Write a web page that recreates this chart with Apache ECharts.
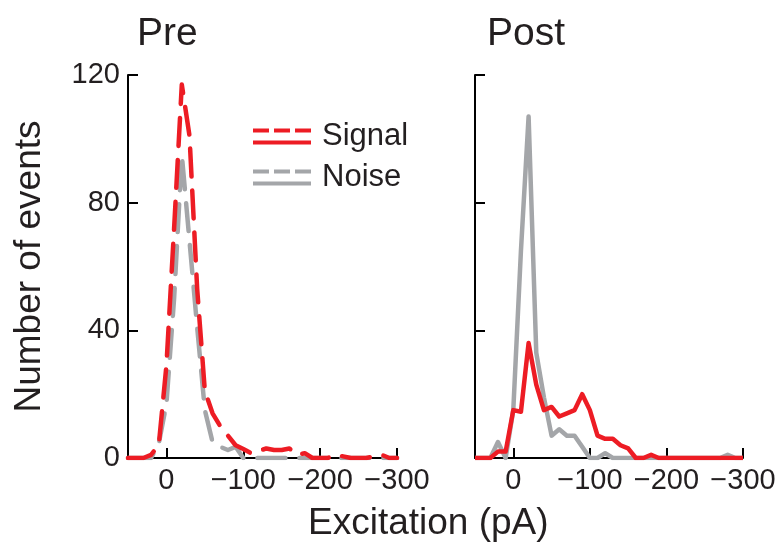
<!DOCTYPE html>
<html><head><meta charset="utf-8">
<script src="https://cdn.jsdelivr.net/npm/echarts@6/dist/echarts.min.js"></script>
<style>html,body{margin:0;padding:0;background:#fff}#c{width:783px;height:544px}</style>
</head><body><div id="c"></div>
<script>
// Excitation bins (pA)
const excitation = [50,40,30,20,10,0,-10,-20,-30,-40,-50,-60,-70,-80,-90,-100,-110,-120,-130,-140,-150,-160,-170,-180,-190,-200,-210,-220,-230,-240,-250,-260,-270,-280,-290,-300];
// Pre
const preSignal = [0,0,0,1,4,29,72,117,101,53,21,14,10,7,4,2.8,1.5,2.2,3,2.5,2.5,3,1,1.5,0,0,0,1,0.5,0,0,0,0.5,1,0,0];
const preNoise  = [0,0,0,0,4.5,17,50,95,68,41,15,5,3.5,2.5,3.5,0,0,0,0,0,0,0,0,0,0,0,0,0,0,0,0,0,0,0,0,0];
// Post
const postSignal = [0,0,0,2,2,15,14.5,36,23,15,16,13,14,15,20,15,7,6,6,4,3,0,0,1,0,0,0,0,0,0,0,0,0,0,0,0];
const postNoise  = [0,0,0,5,0,15,65,107,33,19,7,9,7,7,3.5,0,0,1.5,0,0,0,0,0,0,0,0,0,0,0,0,0,0,0,1,0,0];
// Ticks
const xTicks = [0,-100,-200,-300];
const yTicks = [0,40,80,120];

const RED = '#ed1c24', GRAY = '#a4a6a9', INK = '#231f20';
const FONT = 'Liberation Sans, Arial, Helvetica, sans-serif';

function pairs(vals){ return excitation.map((x,i)=>[x, vals[i]]); }

function xAxisOpt(gi){
  return {
    gridIndex: gi, type:'value', inverse:true, min:-300, max:50, interval:100,
    axisLine:{show:true, onZero:false, lineStyle:{color:'#000', width:2}},
    axisTick:{show:true, inside:true, length:10, lineStyle:{color:'#000', width:2}},
    axisLabel:{show:true, fontSize:29, color:INK, fontFamily:FONT, margin:8,
      formatter:v => xTicks.includes(v) ? (v<0 ? '\u2212'+Math.abs(v) : String(v)) : ''},
    splitLine:{show:false}
  };
}
function yAxisOpt(gi, labels){
  const o = {
    gridIndex: gi, type:'value', min:0, max:120, interval:40,
    axisLine:{show:true, onZero:false, lineStyle:{color:'#000', width:2}},
    axisTick:{show:true, inside:true, length:10, lineStyle:{color:'#000', width:2}},
    axisLabel:{show:labels, fontSize:29, color:INK, fontFamily:FONT, margin:8,
      formatter:v => yTicks.includes(v) ? String(v) : ''},
    splitLine:{show:false}
  };
  if (labels){
    o.name = 'Number of events';
    o.nameLocation = 'middle';
    o.nameGap = 80;
    o.nameTextStyle = {fontSize:37, color:INK, fontFamily:FONT};
  }
  return o;
}

const dashIcon = 'path://M0,0H16V4H0Z M21,0H37V4H21Z M42,0H58V4H42Z M0,12H58V16H0Z';

const chart = echarts.init(document.getElementById('c'), null, {renderer:'canvas'});
chart.setOption({
  animation:false,
  backgroundColor:'#fff',
  textStyle:{fontFamily:FONT},
  title:[
    {text:'Pre', left:137, top:15, padding:0, textStyle:{fontSize:39, fontWeight:'normal', color:INK, fontFamily:FONT}},
    {text:'Post', left:487, top:15, padding:0, textStyle:{fontSize:39, fontWeight:'normal', color:INK, fontFamily:FONT}},
    {text:'Excitation (pA)', left:308, top:505, padding:0, textStyle:{fontSize:37, fontWeight:'normal', color:INK, fontFamily:FONT}}
  ],
  legend:{
    data:[{name:'Signal', icon:dashIcon},{name:'Noise', icon:dashIcon}],
    orient:'vertical', left:253, top:121, padding:0,
    itemWidth:58, itemHeight:16, itemGap:10,
    itemStyle:{borderWidth:0},
    textStyle:{fontSize:31, color:INK, fontFamily:FONT, padding:[0,0,0,6]},
    selectedMode:false
  },
  grid:[
    {left:128, top:75, width:269, height:383},
    {left:475, top:75, width:268, height:383}
  ],
  xAxis:[xAxisOpt(0), xAxisOpt(1)],
  yAxis:[yAxisOpt(0,true), yAxisOpt(1,false)],
  series:[
    {name:'Noise', type:'line', xAxisIndex:0, yAxisIndex:0, data:pairs(preNoise), symbol:'none', color:GRAY,
     lineStyle:{color:GRAY, width:4.5, type:[28,14], cap:'round', join:'round'}},
    {name:'Signal', type:'line', xAxisIndex:0, yAxisIndex:0, data:pairs(preSignal), symbol:'none', color:RED,
     lineStyle:{color:RED, width:4.5, type:[28,14], cap:'round', join:'round'}},
    {name:'Noise', type:'line', xAxisIndex:1, yAxisIndex:1, data:pairs(postNoise), symbol:'none', color:GRAY,
     lineStyle:{color:GRAY, width:4.5, join:'round'}},
    {name:'Signal', type:'line', xAxisIndex:1, yAxisIndex:1, data:pairs(postSignal), symbol:'none', color:RED,
     lineStyle:{color:RED, width:4.5, join:'round'}}
  ]
});
</script>
</body></html>
